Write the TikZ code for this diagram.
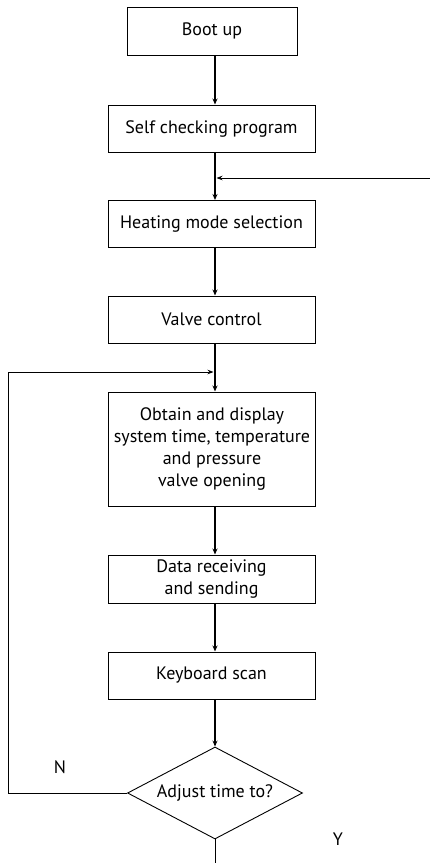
\documentclass[tikz,border=0pt]{standalone}
\usepackage{fontspec}
\setmainfont{PT Sans}
\usetikzlibrary{shapes.geometric,arrows.meta,calc}
\begin{document}
\begin{tikzpicture}[x=1pt,y=-1pt,
  every node/.style={font=\fontsize{18}{22}\selectfont, inner sep=0pt},
  stepbox/.style={draw, line width=1pt, minimum width=207pt, minimum height=47pt, align=center},
  decision/.style={draw, diamond, line width=0.9pt, minimum width=175pt, minimum height=92pt, aspect=1.9},
  flow/.style={line width=1.3pt, -{Stealth[length=6pt,width=5pt]}},
  back/.style={line width=0.8pt, -{Stealth[length=6pt,width=4.5pt]}}
]
\useasboundingbox (0,0) rectangle (430,863);
\fill[white] (0,0) rectangle (430,863);

% process column
\node[draw, line width=1pt, minimum width=170pt, minimum height=48pt] (boot) at (212,31) {Boot up};
\node[stepbox] (self) at (211.5,128.5) {Self checking program};
\node[stepbox] (heat) at (211.5,224) {Heating mode selection};
\node[stepbox] (valve) at (211.5,319.5) {Valve control};
\node[stepbox, minimum height=114pt] (obtain) at (212,449)
  {Obtain and display\\system time, temperature\\and pressure\\valve opening};
\node[stepbox, minimum height=48pt] (data) at (211.5,579) {Data receiving\\and sending};
\node[stepbox] (keys) at (211.5,675.5) {Keyboard scan};
\node[decision] (adj) at (215,793) {Adjust time to?};

% helper points for the flow line and the loops
\coordinate (col) at (215,0);
\coordinate (ext) at (430,178);
\coordinate (joinA) at (215,178);
\coordinate (joinB) at (215,372);
\coordinate (cornerL) at (8,793);
\coordinate (cornerT) at (8,372);
\coordinate (exit) at (215,863);

% main flow
\draw[flow] (boot.south -| col) -- (self.north -| col);
\draw[flow] (self.south -| col) -- (heat.north -| col);
\draw[flow] (heat.south -| col) -- (valve.north -| col);
\draw[flow] (valve.south -| col) -- (obtain.north -| col);
\draw[flow] (obtain.south -| col) -- (data.north -| col);
\draw[flow] (data.south -| col) -- (keys.north -| col);
\draw[flow] (keys.south -| col) -- (adj.north);
\draw[line width=0.9pt] (adj.south) -- (exit);

% incoming branch and the N loop
\draw[back] (ext) -- ($(joinA)+(1.5,0)$);
\draw[back] (adj.west) -- (cornerL) -- (cornerT) -- ($(joinB)+(-1.5,0)$);

% branch labels
\node (n) at (60,767) {N};
\node (y) at (338,839) {Y};
\end{tikzpicture}
\end{document}
